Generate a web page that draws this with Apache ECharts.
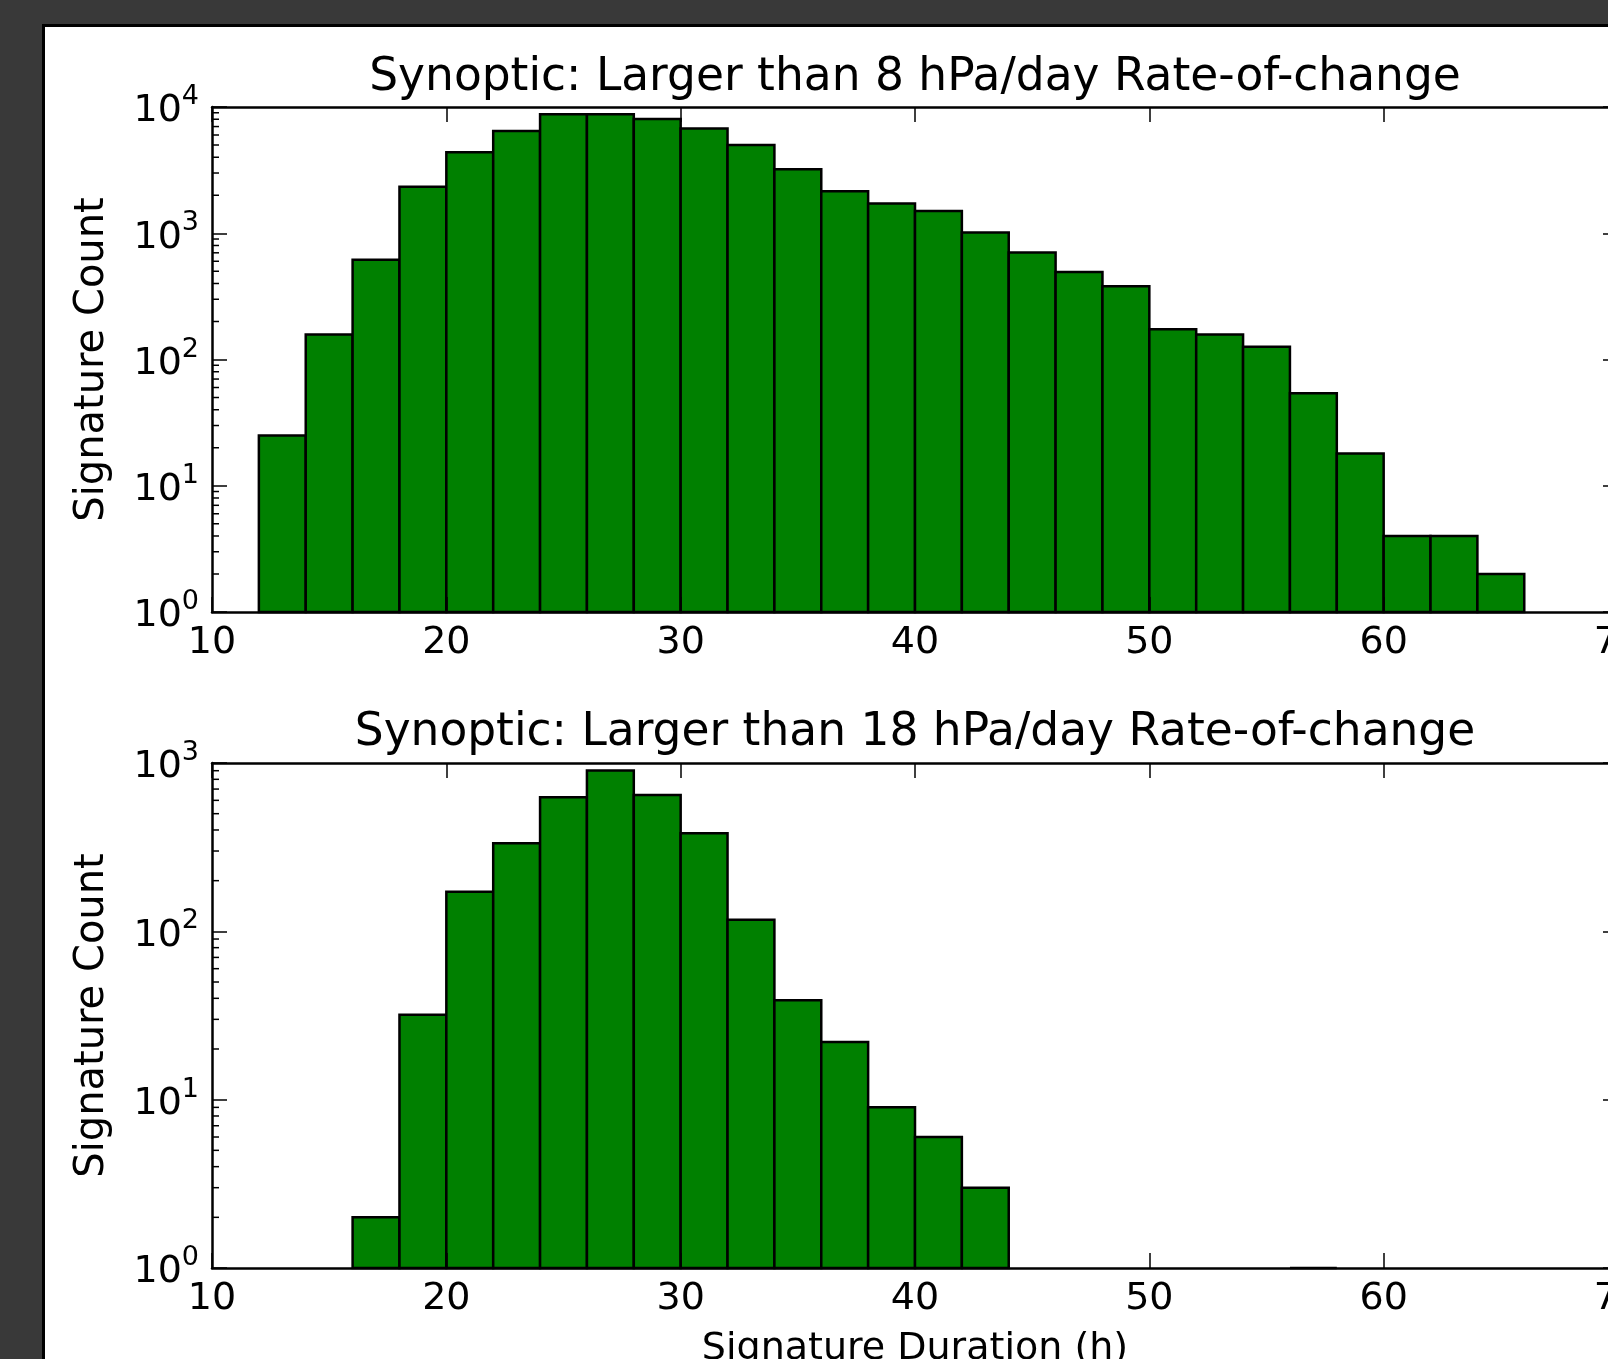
<!DOCTYPE html>
<html>
<head>
<meta charset="utf-8">
<script src="https://cdn.jsdelivr.net/npm/echarts@6/dist/echarts.min.js"></script>
<style>
html,body{margin:0;padding:0;background:#393939;overflow:hidden;width:1608px;height:1359px}
#paper{position:absolute;left:42px;top:24px;width:1600px;height:1400px;background:#fff;border-left:3px solid #000;border-top:3px solid #000}
#main{position:absolute;left:0;top:0;width:1608px;height:1359px}
</style>
</head>
<body>
<div id="paper"></div>
<div id="main"></div>
<script>
// histogram bins: left edge of each 2 h bin and its count
var binWidth = 2;
var topEdges = [12,14,16,18,20,22,24,26,28,30,32,34,36,38,40,42,44,46,48,50,52,54,56,58,60,62,64];
var topCounts = [25,158,618,2330,4390,6450,8750,8750,8030,6770,4990,3220,2155,1720,1503,1013,704,494,380,174,158,126,54,18,4,4,2];
var bottomEdges = [16,18,20,22,24,26,28,30,32,34,36,38,40,42,56];
var bottomCounts = [2,32,172,334,626,901,646,383,117,39,22,9,6,3,1];

var titles = ['Synoptic: Larger than 8 hPa/day Rate-of-change', 'Synoptic: Larger than 18 hPa/day Rate-of-change'];
var xTicks = [10,20,30,40,50,60,70];
var minorSteps = [2,3,4,5,6,7,8,9];

var FONT = 'DejaVu Sans';
var xMin = xTicks[0], xMax = xTicks[xTicks.length - 1];

function buildBins(edges, counts){
	var out = [];
	for(var i=0;i<edges.length;i++){
		out.push([edges[i], edges[i] + binWidth, counts[i]]);
	}
	return out;
}

function buildMinor(decades){
	var out = [];
	for(var d=0;d<decades;d++){
		for(var j=0;j<minorSteps.length;j++){
			out.push([minorSteps[j] * Math.pow(10, d)]);
		}
	}
	return out;
}

function renderBin(params, api){
	var lo = api.coord([api.value(0), api.value(2)]);
	var hi = api.coord([api.value(1), 1]);
	return {
		type: 'rect',
		shape: {x: lo[0], y: lo[1], width: hi[0] - lo[0], height: hi[1] - lo[1]},
		style: {fill: '#008000', stroke: '#000', lineWidth: 2.5}
	};
}

function renderMinor(params, api){
	var l = api.coord([xMin, api.value(0)]);
	var r = api.coord([xMax, api.value(0)]);
	return {
		type: 'group',
		children: [
			{type: 'line', shape: {x1: l[0], y1: l[1], x2: l[0] + 7, y2: l[1]}, style: {stroke: '#000', lineWidth: 1.5}},
			{type: 'line', shape: {x1: r[0], y1: r[1], x2: r[0] - 7, y2: r[1]}, style: {stroke: '#000', lineWidth: 1.5}}
		]
	};
}

function logLabel(v){
	var e = Math.round(Math.log(v) / Math.LN10);
	return '{b|10}{s|' + e + '}';
}

function xAxisPair(g, name){
	var base = {
		type: 'value', gridIndex: g, min: xMin, max: xMax, interval: 10, z: 5,
		axisLine: {show: true, onZero: false, lineStyle: {color: '#000', width: 2.5}},
		axisTick: {show: true, inside: true, length: 15, lineStyle: {color: '#000', width: 1.5}},
		splitLine: {show: false}
	};
	var bottom = echarts.util.merge({
		position: 'bottom',
		axisLabel: {show: true, margin: 12, color: '#000', fontFamily: FONT, fontSize: 38}
	}, base);
	if(name){
		bottom.name = name;
		bottom.nameLocation = 'middle';
		bottom.nameGap = 62;
		bottom.nameTextStyle = {color: '#000', fontFamily: FONT, fontSize: 38};
	}
	var top = echarts.util.merge({position: 'top', axisLabel: {show: false}}, base);
	return [bottom, top];
}

function yAxisPair(g, max, splits){
	var base = {
		type: 'log', logBase: 10, gridIndex: g, min: 1, max: max, splitNumber: splits, z: 5,
		axisLine: {show: true, onZero: false, lineStyle: {color: '#000', width: 2.5}},
		axisTick: {show: true, inside: true, length: 15, lineStyle: {color: '#000', width: 1.5}},
		splitLine: {show: false}
	};
	var left = echarts.util.merge({
		position: 'left',
		name: 'Signature Count', nameLocation: 'middle', nameGap: 99, nameRotate: 90,
		nameTextStyle: {color: '#000', fontFamily: FONT, fontSize: 40},
		axisLabel: {
			show: true, margin: 13, formatter: logLabel,
			rich: {
				b: {color: '#000', fontFamily: FONT, fontSize: 38, verticalAlign: 'bottom'},
				s: {color: '#000', fontFamily: FONT, fontSize: 27, verticalAlign: 'bottom', padding: [0, 0, 20, 0]}
			}
		}
	}, base);
	var right = echarts.util.merge({position: 'right', axisLabel: {show: false}}, base);
	return [left, right];
}

var myChart = echarts.init(document.getElementById('main'), null, {renderer: 'canvas'});
var option = {
	backgroundColor: 'transparent',
	animation: false,
	title: [
		{text: titles[0], left: 915, top: 55, textAlign: 'center', padding: 0,
			textStyle: {color: '#000', fontFamily: FONT, fontSize: 45.5, fontWeight: 'normal'}},
		{text: titles[1], left: 915, top: 710, textAlign: 'center', padding: 0,
			textStyle: {color: '#000', fontFamily: FONT, fontSize: 45.5, fontWeight: 'normal'}}
	],
	grid: [
		{left: 212, top: 107, width: 1406, height: 505, outerBoundsMode: 'none', containLabel: false},
		{left: 212, top: 763, width: 1406, height: 505, outerBoundsMode: 'none', containLabel: false}
	],
	xAxis: xAxisPair(0, null).concat(xAxisPair(1, 'Signature Duration (h)')),
	yAxis: yAxisPair(0, 10000, 4).concat(yAxisPair(1, 1000, 3)),
	series: [
		{type: 'custom', xAxisIndex: 0, yAxisIndex: 0, renderItem: renderBin, encode: {x: [0, 1], y: 2},
			data: buildBins(topEdges, topCounts), silent: true},
		{type: 'custom', xAxisIndex: 2, yAxisIndex: 2, renderItem: renderBin, encode: {x: [0, 1], y: 2},
			data: buildBins(bottomEdges, bottomCounts), silent: true},
		{type: 'custom', xAxisIndex: 0, yAxisIndex: 0, renderItem: renderMinor, encode: {y: 0},
			data: buildMinor(4), silent: true, z: 6},
		{type: 'custom', xAxisIndex: 2, yAxisIndex: 2, renderItem: renderMinor, encode: {y: 0},
			data: buildMinor(3), silent: true, z: 6}
	]
};
myChart.setOption(option, true);
</script>
</body>
</html>
